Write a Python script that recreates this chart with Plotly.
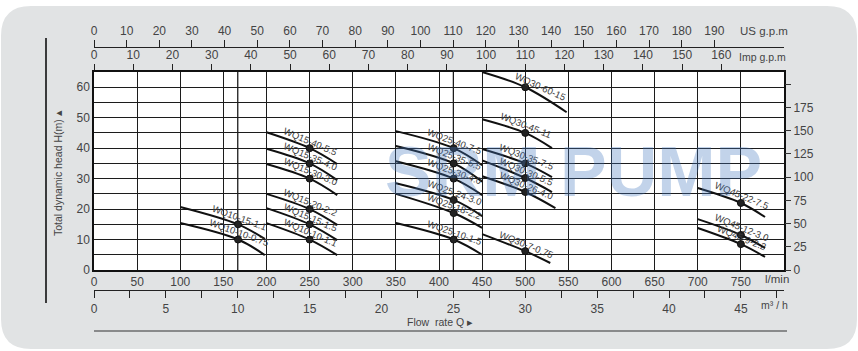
import math
import plotly.graph_objects as go

# ---------------- data ----------------
models = ["WQ10-15-1.1", "WQ10-10-0.75",
          "WQ15-40-5.5", "WQ15-35-4.0", "WQ15-30-3.0", "WQ15-20-2.2", "WQ15-15-1.5", "WQ10-10-1.1",
          "WQ25-40-7.5", "WQ25-35-5.5", "WQ25-30-4.0", "WQ25-24-3.0", "WQ25-18-2.2", "WQ25-10-1.5",
          "WQ30-60-15", "WQ30-45-11", "WQ30-35-7.5", "WQ30-30-5.5", "WQ30-26-4.0", "WQ30-7-0.75",
          "WQ45-22-7.5", "WQ45-12-3.0", "WQ45-9-2.2"]
q_start = [100, 100, 200, 200, 200, 200, 200, 200, 350, 350, 350, 350, 350, 350,
           450, 450, 450, 450, 450, 450, 700, 700, 700]
q_duty = [167, 167, 250, 250, 250, 250, 250, 250, 417, 417, 417, 417, 417, 417,
          500, 500, 500, 500, 500, 500, 750, 750, 750]
q_end = [198, 198, 282, 282, 282, 282, 282, 282, 450, 450, 450, 450, 450, 450,
         548, 531, 531, 531, 535, 529, 778, 778, 778]
h_start = [20.7, 15.4, 45.2, 39.8, 34.8, 25.0, 20.3, 15.4, 45.6, 40.7, 35.7, 28.5, 25.0, 15.4,
           65.0, 49.5, 39.7, 36.0, 30.8, 11.8, 26.9, 16.7, 13.8]
h_duty = [15.0, 10.0, 40.0, 35.0, 30.0, 20.0, 15.0, 10.0, 40.0, 35.0, 30.0, 23.0, 18.7, 10.0,
          60.0, 45.0, 35.0, 30.2, 25.6, 6.2, 22.0, 11.5, 8.5]
h_end = [10.2, 4.9, 34.8, 29.5, 24.6, 14.8, 9.8, 4.9, 34.4, 29.0, 24.6, 17.7, 13.8, 5.0,
         51.8, 40.0, 30.5, 25.6, 20.3, 2.3, 17.4, 7.2, 4.3]

lpm_ticks = list(range(0, 751, 50))
m3h_ticks = [i * 2.5 for i in range(0, 20)]
usgpm_ticks = list(range(0, 191, 10))
impgpm_ticks = list(range(0, 161, 10))
head_ticks = list(range(0, 66, 5))
ft_ticks = list(range(0, 201, 25))
extra_verticals = [166.67, 416.67]

# ---------------- geometry helpers ----------------
W, H = 858, 351
ML, MR, MT, MB = 94, 74, 20, 15
PW, PH = W - ML - MR, H - MT - MB
def fx(px): return (px - ML) / PW
def fy(py): return (H - MB - py) / PH

Q_MAX, H_MAX = 800, 65
XPX = PW / Q_MAX
YPX = (270 - 72) / H_MAX

INK = "#1c1c1c"
TXT = "#444444"
FONT = "Liberation Sans, Arial, sans-serif"

fig = go.Figure()

for i, m in enumerate(models):
    fig.add_trace(go.Scatter(
        x=[q_start[i], q_duty[i], q_end[i]], y=[h_start[i], h_duty[i], h_end[i]],
        mode="lines", line=dict(color="#111", width=2, shape="spline", smoothing=1.0),
        hoverinfo="skip", showlegend=False))

fig.add_trace(go.Scatter(x=q_duty, y=h_duty, mode="markers",
                         marker=dict(color="#222", size=7, line=dict(color="#111", width=1)),
                         hoverinfo="skip", showlegend=False))

# dummy traces so the overlaying axes are drawn
for xa, ya in [("x2", "y"), ("x3", "y"), ("x4", "y"), ("x", "y2")]:
    fig.add_trace(go.Scatter(x=[0], y=[0], xaxis=xa, yaxis=ya, mode="markers",
                             marker=dict(opacity=0), hoverinfo="skip", showlegend=False))

annotations = []
label_dx = {"WQ30-60-15": 15}
for i, m in enumerate(models):
    dxp = (q_end[i] - q_start[i]) * XPX
    dyp = (h_start[i] - h_end[i]) * YPX
    ang = math.degrees(math.atan2(dyp, dxp))
    annotations.append(dict(x=q_duty[i], y=h_duty[i], xref="x", yref="y", text=m,
                            showarrow=False, textangle=ang - 1, xanchor="center", yanchor="middle",
                            xshift=label_dx.get(m, 1), yshift=7 - (label_dx.get(m, 0) * 0.45),
                            font=dict(family=FONT, size=9.5, color="#3a3a3a")))

def paper_text(txt, px, py, sz, angle=0, color=TXT, bold=False):
    return dict(x=fx(px), y=fy(py), xref="paper", yref="paper", text=txt, showarrow=False,
                xanchor="center", yanchor="middle", textangle=angle,
                font=dict(family=FONT, size=sz, color=color))

# watermark
annotations.append(paper_text("<b>SRM PUMP</b>", 573, 172, 70, color="rgba(70,120,190,0.33)"))
# unit labels
for txt, px, py, sz in [("US g.p.m", 764, 31, 11.5), ("Imp g.p.m", 762, 57, 10.5),
                        ("l/min", 777, 279, 11.5), ("m³ / h", 774, 305, 10.5),
                        ("Flow  rate Q ▸", 440, 322, 10.5)]:
    annotations.append(paper_text(txt, px, py, sz))
annotations.append(paper_text("Total dynamic head H(m) ▴", 58, 173, 10.5, angle=-90))

# shapes
shapes = []
for v in extra_verticals:
    shapes.append(dict(type="line", xref="x", yref="y", x0=v, x1=v, y0=0, y1=H_MAX,
                       line=dict(color=INK, width=1.3), layer="below"))
# white corners outside the rounded grey card
x0, y0, x1, y1, r = 1, 6, 857, 349, 30
def P(px, py): return f"{fx(px):.5f},{fy(py):.5f}"
outer = f"M{P(-5,-5)} L{P(W+5,-5)} L{P(W+5,H+5)} L{P(-5,H+5)} Z"
inner = (f"M{P(x0+r,y0)} L{P(x1-r,y0)} Q{P(x1,y0)} {P(x1,y0+r)} L{P(x1,y1-r)} Q{P(x1,y1)} {P(x1-r,y1)} "
         f"L{P(x0+r,y1)} Q{P(x0,y1)} {P(x0,y1-r)} L{P(x0,y0+r)} Q{P(x0,y0)} {P(x0+r,y0)} Z")
shapes.append(dict(type="path", xref="paper", yref="paper", path=outer + " " + inner,
                   fillcolor="white", fillrule="evenodd", line=dict(width=0), layer="above"))
shapes.append(dict(type="line", xref="paper", yref="paper", x0=fx(46), x1=fx(46), y0=fy(38), y1=fy(303),
                   line=dict(color="#111", width=1.6), layer="above"))
shapes.append(dict(type="line", xref="paper", yref="paper", x0=fx(94), x1=fx(787), y0=fy(331), y1=fy(331),
                   line=dict(color="#333", width=1.2), layer="above"))

tick_font = dict(family=FONT, size=12, color=TXT)
common = dict(zeroline=False, tickfont=tick_font, fixedrange=True)

fig.update_layout(
    width=W, height=H, margin=dict(l=ML, r=MR, t=MT, b=MB, pad=0, autoexpand=False),
    paper_bgcolor="#e1e3e4", plot_bgcolor="white", showlegend=False,
    font=dict(family=FONT, color=TXT),
    xaxis=dict(domain=[0, 1], range=[0, Q_MAX], tickvals=lpm_ticks, ticktext=[str(v) for v in lpm_ticks],
               ticks="", showgrid=True, gridcolor=INK, gridwidth=1.2, showline=True,
               linecolor="#111", linewidth=1.5, anchor="y", **common),
    yaxis=dict(domain=[fy(270), fy(72)], range=[0, H_MAX], tickvals=head_ticks,
               ticktext=[str(v) if v % 10 == 0 and v <= 60 else "" for v in head_ticks],
               ticks="", showgrid=True, gridcolor=INK, gridwidth=1.2, showline=True, mirror=True,
               linecolor="#111", linewidth=1.5, anchor="x", **common),
    yaxis2=dict(overlaying="y", side="right", anchor="x", range=[0, H_MAX * 3.28084], tickvals=ft_ticks,
                ticktext=[str(v) if v < 200 else "" for v in ft_ticks], ticks="outside", ticklen=6,
                tickwidth=1.2, tickcolor="#333", showgrid=False, showline=False, **common),
    xaxis2=dict(overlaying="x", side="top", anchor="y", range=[0, Q_MAX / 4.54609], tickvals=impgpm_ticks,
                ticks="outside", ticklen=6, tickwidth=1.3, tickcolor="#222", showgrid=False,
                showline=True, linecolor="#111", linewidth=1.5, **common),
    xaxis3=dict(overlaying="x", side="top", anchor="free", position=fy(47), range=[0, Q_MAX / 3.78541],
                tickvals=usgpm_ticks, ticks="outside", ticklen=7, tickwidth=1.3, tickcolor="#222",
                showgrid=False, showline=True, linecolor="#222", linewidth=1.3, **common),
    xaxis4=dict(overlaying="x", side="bottom", anchor="free", position=fy(290), range=[0, Q_MAX * 0.06],
                tickvals=m3h_ticks,
                ticktext=[str(int(v)) if v % 5 == 0 and v <= 45 else "" for v in m3h_ticks],
                ticks="outside", ticklen=7, tickwidth=1.3, tickcolor="#222", showgrid=False,
                showline=True, linecolor="#222", linewidth=1.3, **common),
    annotations=annotations, shapes=shapes,
)

fig.write_html("out.html")
